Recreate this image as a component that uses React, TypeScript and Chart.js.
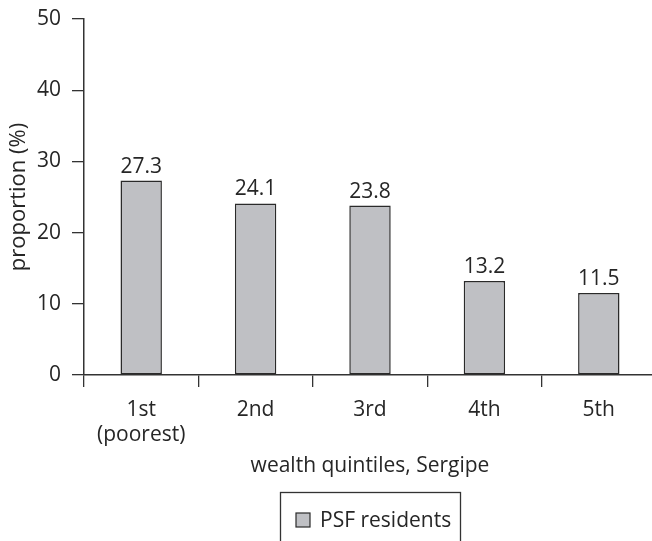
import React, { useEffect, useRef } from "react";
import { Chart, registerables } from "chart.js";

Chart.register(...registerables);

const categories: (string | string[])[] = [["1st", "(poorest)"], "2nd", "3rd", "4th", "5th"];
const psfResidents: number[] = [27.3, 24.1, 23.8, 13.2, 11.5];
const seriesLabel = "PSF residents";
const yTitle = "proportion (%)";
const xTitle = "wealth quintiles, Sergipe";

const FONT = "'Open Sans', 'Noto Sans', sans-serif";
const FS = 21;
const TEXT = "#262626";
const AXIS = "#333333";
const BAR_FILL = "#bfc0c4";
const BAR_EDGE = "#2a2a2a";

const extrasPlugin = {
  id: "extras",
  afterDatasetsDraw(chart: any) {
    const { ctx, chartArea } = chart;
    const meta = chart.getDatasetMeta(0);
    const data = chart.data.datasets[0].data as number[];
    ctx.save();
    ctx.font = `${FS}px ${FONT}`;
    ctx.fillStyle = TEXT;
    ctx.textAlign = "center";
    ctx.textBaseline = "alphabetic";
    meta.data.forEach((bar: any, i: number) => {
      ctx.fillText(data[i].toFixed(1), bar.x, bar.y - 8);
    });
    // x-axis title
    const cx = (chartArea.left + chartArea.right) / 2;
    ctx.fillText(xTitle, cx, chartArea.bottom + 97);
    // legend
    const lw = 180;
    const lx = cx - lw / 2;
    const ly = chartArea.bottom + 117;
    ctx.strokeStyle = AXIS;
    ctx.lineWidth = 1.3;
    ctx.strokeRect(lx + 0.5, ly + 0.5, lw, 80);
    ctx.fillStyle = BAR_FILL;
    ctx.fillRect(lx + 16, ly + 21, 14, 14);
    ctx.strokeStyle = BAR_EDGE;
    ctx.lineWidth = 1.2;
    ctx.strokeRect(lx + 16, ly + 21, 14, 14);
    ctx.fillStyle = TEXT;
    ctx.textAlign = "left";
    ctx.fillText(chart.data.datasets[0].label, lx + 40, ly + 35);
    ctx.restore();
  },
};

export default function App() {
  const ref = useRef<HTMLCanvasElement | null>(null);
  useEffect(() => {
    if (!ref.current) return;
    const chart = new Chart(ref.current, {
      type: "bar",
      data: {
        labels: categories,
        datasets: [
          {
            label: seriesLabel,
            data: psfResidents,
            backgroundColor: BAR_FILL,
            borderColor: BAR_EDGE,
            borderWidth: 1.5,
            borderSkipped: false,
            categoryPercentage: 1,
            barPercentage: 0.362,
          },
        ],
      },
      options: {
        animation: false,
        responsive: false,
        layout: { padding: { top: 19, right: 4, left: 0, bottom: 0 } },
        plugins: { legend: { display: false }, tooltip: { enabled: false } },
        scales: {
          x: {
            grid: {
              offset: true,
              drawOnChartArea: false,
              drawTicks: true,
              tickLength: 12,
              color: AXIS,
              lineWidth: 1.3,
            },
            border: { display: true, color: AXIS, width: 1.5 },
            ticks: {
              color: TEXT,
              font: { family: FONT, size: FS, lineHeight: 1.22 },
              padding: 10,
              maxRotation: 0,
              autoSkip: false,
            },
            afterFit(scale: any) {
              scale.height = 166;
            },
          },
          y: {
            min: 0,
            max: 50,
            ticks: {
              stepSize: 10,
              color: TEXT,
              font: { family: FONT, size: FS },
              padding: 11,
            },
            grid: {
              drawOnChartArea: false,
              drawTicks: true,
              tickLength: 12,
              color: AXIS,
              lineWidth: 1.3,
            },
            border: { display: true, color: AXIS, width: 1.5 },
            title: {
              display: true,
              text: yTitle,
              color: TEXT,
              font: { family: FONT, size: 22 },
              padding: { top: 6, bottom: 0 },
            },
            afterFit(scale: any) {
              scale.width = 84;
              scale.paddingTop = 0;
              scale.paddingBottom = 0;
            },
          },
        },
      },
      plugins: [extrasPlugin],
    });
    return () => chart.destroy();
  }, []);
  return (
    <div
      style={{
        position: "fixed",
        left: 0,
        top: 0,
        width: 652,
        height: 541,
        overflow: "hidden",
        background: "#fff",
      }}
    >
      <canvas ref={ref} width={660} height={541} style={{ display: "block" }} />
    </div>
  );
}
